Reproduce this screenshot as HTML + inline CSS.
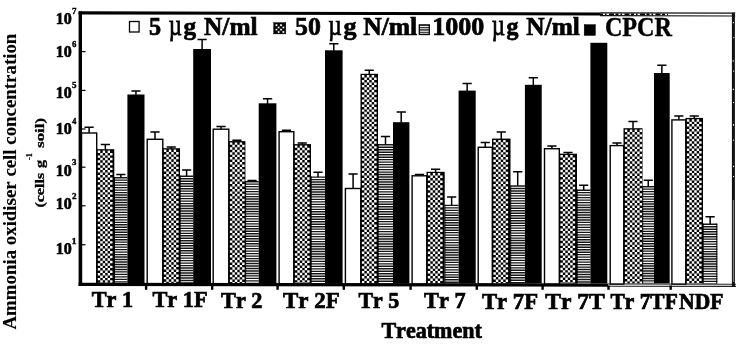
<!DOCTYPE html>
<html lang="en"><head><meta charset="utf-8"><title>Ammonia oxidiser cell concentration</title>
<style>html,body{margin:0;padding:0;background:#fff}svg{display:block}</style></head>
<body>
<svg width="742" height="345" viewBox="0 0 742 345">
<defs>
<pattern id="hl" width="4" height="2.44" patternUnits="userSpaceOnUse">
<rect width="4" height="2.44" fill="#fff"/>
<rect y="0" width="4" height="1.35" fill="#222"/>
</pattern>
</defs>
<rect width="742" height="345" fill="#fff"/>
<rect x="81.50" y="133.00" width="15.20" height="151.20" fill="#fff" stroke="#000" stroke-width="1.4"/>
<path d="M89.10 132.80V126.70M84.50 127.20H93.70" stroke="#000" stroke-width="1.5" fill="none"/>
<rect x="96.40" y="149.20" width="17.90" height="134.30" fill="#000"/>
<path d="M99.03 150.50V283.50M101.48 152.95V283.50M103.93 150.50V283.50M106.38 152.95V283.50M108.83 150.50V283.50M111.28 152.95V283.50" stroke="#fff" stroke-width="2.45" stroke-dasharray="2.45 2.45" fill="none"/>
<path d="M105.35 149.70V144.10M100.75 144.60H109.95" stroke="#000" stroke-width="1.5" fill="none"/>
<rect x="114.30" y="177.00" width="13.10" height="106.50" fill="#fff"/>
<path d="M120.85 177.00V283.50" stroke="#161616" stroke-width="13.10" stroke-dasharray="1.38 1.1" fill="none"/>
<path d="M114.50 177.00V283.50" stroke="#000" stroke-width="1" fill="none"/>
<path d="M120.85 177.50V173.90M116.25 174.40H125.45" stroke="#000" stroke-width="1.5" fill="none"/>
<rect x="127.40" y="94.50" width="17.10" height="189.00" fill="#000"/>
<path d="M135.95 95.00V90.50M131.35 91.00H140.55" stroke="#000" stroke-width="1.5" fill="none"/>
<rect x="147.20" y="139.30" width="15.60" height="144.90" fill="#fff" stroke="#000" stroke-width="1.4"/>
<path d="M155.00 139.10V131.50M150.40 132.00H159.60" stroke="#000" stroke-width="1.5" fill="none"/>
<rect x="162.50" y="148.20" width="17.50" height="135.30" fill="#000"/>
<path d="M165.12 149.50V283.50M167.58 151.95V283.50M170.03 149.50V283.50M172.47 151.95V283.50M174.93 149.50V283.50M177.38 151.95V283.50" stroke="#fff" stroke-width="2.45" stroke-dasharray="2.45 2.45" fill="none"/>
<path d="M171.25 148.70V146.60M166.65 147.10H175.85" stroke="#000" stroke-width="1.5" fill="none"/>
<rect x="180.00" y="175.60" width="13.20" height="107.90" fill="#fff"/>
<path d="M186.60 175.60V283.50" stroke="#161616" stroke-width="13.20" stroke-dasharray="1.38 1.1" fill="none"/>
<path d="M180.20 175.60V283.50" stroke="#000" stroke-width="1" fill="none"/>
<path d="M186.60 176.10V169.60M182.00 170.10H191.20" stroke="#000" stroke-width="1.5" fill="none"/>
<rect x="193.20" y="49.00" width="17.80" height="234.50" fill="#000"/>
<path d="M202.10 49.50V39.00M197.50 39.50H206.70" stroke="#000" stroke-width="1.5" fill="none"/>
<rect x="213.20" y="129.20" width="15.60" height="155.00" fill="#fff" stroke="#000" stroke-width="1.4"/>
<path d="M221.00 129.00V126.00M216.40 126.50H225.60" stroke="#000" stroke-width="1.5" fill="none"/>
<rect x="228.50" y="141.10" width="16.90" height="142.40" fill="#000"/>
<path d="M231.12 142.40V283.50M233.58 144.85V283.50M236.03 142.40V283.50M238.47 144.85V283.50M240.93 142.40V283.50M243.38 144.85V283.50" stroke="#fff" stroke-width="2.45" stroke-dasharray="2.45 2.45" fill="none"/>
<path d="M236.95 141.60V139.80M232.35 140.30H241.55" stroke="#000" stroke-width="1.5" fill="none"/>
<rect x="245.40" y="181.00" width="13.30" height="102.50" fill="#fff"/>
<path d="M252.05 181.00V283.50" stroke="#161616" stroke-width="13.30" stroke-dasharray="1.38 1.1" fill="none"/>
<path d="M245.60 181.00V283.50" stroke="#000" stroke-width="1" fill="none"/>
<path d="M252.05 181.50V180.00M247.45 180.50H256.65" stroke="#000" stroke-width="1.5" fill="none"/>
<rect x="258.70" y="103.30" width="17.70" height="180.20" fill="#000"/>
<path d="M267.55 103.80V98.30M262.95 98.80H272.15" stroke="#000" stroke-width="1.5" fill="none"/>
<rect x="279.10" y="131.70" width="14.70" height="152.50" fill="#fff" stroke="#000" stroke-width="1.4"/>
<path d="M286.45 131.50V129.80M281.85 130.30H291.05" stroke="#000" stroke-width="1.5" fill="none"/>
<rect x="293.50" y="144.10" width="17.50" height="139.40" fill="#000"/>
<path d="M296.12 145.40V283.50M298.57 147.85V283.50M301.02 145.40V283.50M303.47 147.85V283.50M305.92 145.40V283.50M308.38 147.85V283.50" stroke="#fff" stroke-width="2.45" stroke-dasharray="2.45 2.45" fill="none"/>
<path d="M302.25 144.60V142.60M297.65 143.10H306.85" stroke="#000" stroke-width="1.5" fill="none"/>
<rect x="311.00" y="176.40" width="14.00" height="107.10" fill="#fff"/>
<path d="M318.00 176.40V283.50" stroke="#161616" stroke-width="14.00" stroke-dasharray="1.38 1.1" fill="none"/>
<path d="M311.20 176.40V283.50" stroke="#000" stroke-width="1" fill="none"/>
<path d="M318.00 176.90V171.80M313.40 172.30H322.60" stroke="#000" stroke-width="1.5" fill="none"/>
<rect x="325.00" y="50.30" width="17.60" height="233.20" fill="#000"/>
<path d="M333.80 50.80V43.30M329.20 43.80H338.40" stroke="#000" stroke-width="1.5" fill="none"/>
<rect x="345.40" y="188.50" width="15.40" height="95.70" fill="#fff" stroke="#000" stroke-width="1.4"/>
<path d="M353.10 188.30V173.40M348.50 173.90H357.70" stroke="#000" stroke-width="1.5" fill="none"/>
<rect x="360.50" y="73.80" width="17.50" height="209.70" fill="#000"/>
<path d="M363.12 75.10V283.50M365.57 77.55V283.50M368.02 75.10V283.50M370.47 77.55V283.50M372.92 75.10V283.50M375.38 77.55V283.50" stroke="#fff" stroke-width="2.45" stroke-dasharray="2.45 2.45" fill="none"/>
<path d="M369.25 74.30V69.70M364.65 70.20H373.85" stroke="#000" stroke-width="1.5" fill="none"/>
<rect x="378.00" y="144.10" width="15.00" height="139.40" fill="#fff"/>
<path d="M385.50 144.10V283.50" stroke="#161616" stroke-width="15.00" stroke-dasharray="1.38 1.1" fill="none"/>
<path d="M378.20 144.10V283.50" stroke="#000" stroke-width="1" fill="none"/>
<path d="M385.50 144.60V136.00M380.90 136.50H390.10" stroke="#000" stroke-width="1.5" fill="none"/>
<rect x="393.00" y="122.20" width="16.40" height="161.30" fill="#000"/>
<path d="M401.20 122.70V111.40M396.60 111.90H405.80" stroke="#000" stroke-width="1.5" fill="none"/>
<rect x="412.10" y="175.80" width="14.70" height="108.40" fill="#fff" stroke="#000" stroke-width="1.4"/>
<path d="M419.45 175.60V173.90M414.85 174.40H424.05" stroke="#000" stroke-width="1.5" fill="none"/>
<rect x="426.50" y="171.80" width="18.20" height="111.70" fill="#000"/>
<path d="M429.12 173.10V283.50M431.57 175.55V283.50M434.02 173.10V283.50M436.47 175.55V283.50M438.92 173.10V283.50M441.38 175.55V283.50" stroke="#fff" stroke-width="2.45" stroke-dasharray="2.45 2.45" fill="none"/>
<path d="M435.60 172.30V168.80M431.00 169.30H440.20" stroke="#000" stroke-width="1.5" fill="none"/>
<rect x="444.70" y="204.70" width="13.90" height="78.80" fill="#fff"/>
<path d="M451.65 204.70V283.50" stroke="#161616" stroke-width="13.90" stroke-dasharray="1.38 1.1" fill="none"/>
<path d="M444.90 204.70V283.50" stroke="#000" stroke-width="1" fill="none"/>
<path d="M451.65 205.20V196.60M447.05 197.10H456.25" stroke="#000" stroke-width="1.5" fill="none"/>
<rect x="458.60" y="90.60" width="17.10" height="192.90" fill="#000"/>
<path d="M467.15 91.10V83.00M462.55 83.50H471.75" stroke="#000" stroke-width="1.5" fill="none"/>
<rect x="478.20" y="147.30" width="14.10" height="136.90" fill="#fff" stroke="#000" stroke-width="1.4"/>
<path d="M485.25 147.10V141.90M480.65 142.40H489.85" stroke="#000" stroke-width="1.5" fill="none"/>
<rect x="492.00" y="138.60" width="18.50" height="144.90" fill="#000"/>
<path d="M494.62 139.90V283.50M497.07 142.35V283.50M499.52 139.90V283.50M501.97 142.35V283.50M504.42 139.90V283.50M506.88 142.35V283.50" stroke="#fff" stroke-width="2.45" stroke-dasharray="2.45 2.45" fill="none"/>
<path d="M501.25 139.10V131.50M496.65 132.00H505.85" stroke="#000" stroke-width="1.5" fill="none"/>
<rect x="510.50" y="185.30" width="14.40" height="98.20" fill="#fff"/>
<path d="M517.70 185.30V283.50" stroke="#161616" stroke-width="14.40" stroke-dasharray="1.38 1.1" fill="none"/>
<path d="M510.70 185.30V283.50" stroke="#000" stroke-width="1" fill="none"/>
<path d="M517.70 185.80V171.30M513.10 171.80H522.30" stroke="#000" stroke-width="1.5" fill="none"/>
<rect x="524.90" y="84.80" width="16.80" height="198.70" fill="#000"/>
<path d="M533.30 85.30V77.30M528.70 77.80H537.90" stroke="#000" stroke-width="1.5" fill="none"/>
<rect x="544.50" y="148.70" width="14.80" height="135.50" fill="#fff" stroke="#000" stroke-width="1.4"/>
<path d="M551.90 148.50V145.40M547.30 145.90H556.50" stroke="#000" stroke-width="1.5" fill="none"/>
<rect x="559.00" y="153.70" width="18.00" height="129.80" fill="#000"/>
<path d="M561.62 155.00V283.50M564.07 157.45V283.50M566.52 155.00V283.50M568.98 157.45V283.50M571.42 155.00V283.50M573.88 157.45V283.50" stroke="#fff" stroke-width="2.45" stroke-dasharray="2.45 2.45" fill="none"/>
<path d="M568.00 154.20V152.00M563.40 152.50H572.60" stroke="#000" stroke-width="1.5" fill="none"/>
<rect x="577.00" y="189.50" width="13.40" height="94.00" fill="#fff"/>
<path d="M583.70 189.50V283.50" stroke="#161616" stroke-width="13.40" stroke-dasharray="1.38 1.1" fill="none"/>
<path d="M577.20 189.50V283.50" stroke="#000" stroke-width="1" fill="none"/>
<path d="M583.70 190.00V184.80M579.10 185.30H588.30" stroke="#000" stroke-width="1.5" fill="none"/>
<rect x="590.40" y="42.80" width="16.90" height="240.70" fill="#000"/>
<rect x="610.20" y="145.60" width="13.60" height="138.60" fill="#fff" stroke="#000" stroke-width="1.4"/>
<path d="M617.00 145.40V142.40M612.40 142.90H621.60" stroke="#000" stroke-width="1.5" fill="none"/>
<rect x="623.50" y="128.20" width="19.00" height="155.30" fill="#000"/>
<path d="M626.12 129.50V283.50M628.57 131.95V283.50M631.02 129.50V283.50M633.48 131.95V283.50M635.92 129.50V283.50M638.38 131.95V283.50M640.82 129.50V283.50" stroke="#fff" stroke-width="2.45" stroke-dasharray="2.45 2.45" fill="none"/>
<path d="M633.00 128.70V121.00M628.40 121.50H637.60" stroke="#000" stroke-width="1.5" fill="none"/>
<rect x="642.50" y="186.00" width="11.50" height="97.50" fill="#fff"/>
<path d="M648.25 186.00V283.50" stroke="#161616" stroke-width="11.50" stroke-dasharray="1.38 1.1" fill="none"/>
<path d="M642.70 186.00V283.50" stroke="#000" stroke-width="1" fill="none"/>
<path d="M648.25 186.50V179.70M643.65 180.20H652.85" stroke="#000" stroke-width="1.5" fill="none"/>
<rect x="654.00" y="73.00" width="15.70" height="210.50" fill="#000"/>
<path d="M661.85 73.50V64.70M657.25 65.20H666.45" stroke="#000" stroke-width="1.5" fill="none"/>
<rect x="671.90" y="119.90" width="13.90" height="164.30" fill="#fff" stroke="#000" stroke-width="1.4"/>
<path d="M678.85 119.70V115.40M674.25 115.90H683.45" stroke="#000" stroke-width="1.5" fill="none"/>
<rect x="685.50" y="117.90" width="17.50" height="165.60" fill="#000"/>
<path d="M688.12 119.20V283.50M690.57 121.65V283.50M693.02 119.20V283.50M695.48 121.65V283.50M697.92 119.20V283.50M700.38 121.65V283.50" stroke="#fff" stroke-width="2.45" stroke-dasharray="2.45 2.45" fill="none"/>
<path d="M694.25 118.40V115.40M689.65 115.90H698.85" stroke="#000" stroke-width="1.5" fill="none"/>
<rect x="703.00" y="223.60" width="14.30" height="59.90" fill="#fff"/>
<path d="M710.15 223.60V283.50" stroke="#161616" stroke-width="14.30" stroke-dasharray="1.38 1.1" fill="none"/>
<path d="M703.20 223.60V283.50M716.80 223.60V283.50" stroke="#000" stroke-width="1" fill="none"/>
<path d="M710.15 224.10V216.30M705.55 216.80H714.75" stroke="#000" stroke-width="1.5" fill="none"/>
<rect x="78.6" y="11.4" width="3.40" height="274.60" fill="#000"/>
<polygon points="78.6,11.30 600,12.39 600,15.49 78.6,14.40" fill="#000"/>
<path d="M600 12.89L735.2 13.18M600 15.69L735.2 15.98" stroke="#111" stroke-width="1.2"/>
<path d="M600 14.29L668 14.44" stroke="#000" stroke-width="1.6" stroke-dasharray="3 2 1.5 2.5 5 1.5"/>
<polygon points="78.6,282.70 608,283.44 608,286.64 78.6,285.90" fill="#000"/>
<path d="M608 284.04L736.0 284.22M608 286.24L736.0 286.42" stroke="#222" stroke-width="1.1"/>
<rect x="731.9" y="12.67" width="3" height="274.24" fill="#111"/>
<path d="M733.4 200V282" stroke="#999" stroke-width="0.9"/>
<path d="M733.3 22v1.2m0.5 14v1m-0.6 22v1.4m0.4 9v1m-0.3 17v1.5m0.2 12v1m0 21v1.6m0 14v1m0 25v1.4m0 9v1" stroke="#fff" stroke-width="1"/>
<rect x="144.90" y="285.5" width="2.4" height="4.3" fill="#000"/>
<rect x="211.00" y="285.5" width="2.4" height="4.3" fill="#000"/>
<rect x="276.40" y="285.5" width="2.4" height="4.3" fill="#000"/>
<rect x="342.60" y="285.5" width="2.4" height="4.3" fill="#000"/>
<rect x="409.40" y="285.5" width="2.4" height="4.3" fill="#000"/>
<rect x="475.60" y="285.5" width="2.4" height="4.3" fill="#000"/>
<rect x="541.40" y="285.5" width="2.4" height="4.3" fill="#000"/>
<rect x="607.30" y="285.5" width="2.4" height="4.3" fill="#000"/>
<rect x="669.50" y="285.5" width="2.4" height="4.3" fill="#000"/>
<rect x="81.5" y="51.00" width="4" height="1.2" fill="#000"/>
<rect x="81.5" y="89.80" width="4" height="1.2" fill="#000"/>
<rect x="81.5" y="128.40" width="4" height="1.2" fill="#000"/>
<rect x="81.5" y="166.60" width="4" height="1.2" fill="#000"/>
<rect x="81.5" y="205.20" width="4" height="1.2" fill="#000"/>
<rect x="81.5" y="244.10" width="4" height="1.2" fill="#000"/>
<g font-family="'Liberation Serif', 'DejaVu Serif', serif" font-weight="bold" fill="#000" stroke="#000" stroke-width="0.45" style="font-kerning:none">
<text transform="translate(55.82 23.7) scale(1.0014 1)" font-size="16" font-weight="bold" stroke-width="0.599">10</text>
<text transform="translate(71.90 13.5) scale(1.0053 1)" font-size="9" font-weight="bold" stroke-width="0.398">7</text>
<text transform="translate(55.82 57.4) scale(1.0014 1)" font-size="16" font-weight="bold" stroke-width="0.599">10</text>
<text transform="translate(72.09 47.0) scale(0.9706 1)" font-size="9" font-weight="bold" stroke-width="0.412">6</text>
<text transform="translate(55.82 98.0) scale(1.0014 1)" font-size="16" font-weight="bold" stroke-width="0.599">10</text>
<text transform="translate(72.04 87.9) scale(0.9935 1)" font-size="9" font-weight="bold" stroke-width="0.403">5</text>
<text transform="translate(55.82 134.3) scale(1.0014 1)" font-size="16" font-weight="bold" stroke-width="0.599">10</text>
<text transform="translate(72.28 124.1) scale(0.9080 1)" font-size="9" font-weight="bold" stroke-width="0.441">4</text>
<text transform="translate(55.82 175.5) scale(1.0014 1)" font-size="16" font-weight="bold" stroke-width="0.599">10</text>
<text transform="translate(72.04 165.4) scale(0.9935 1)" font-size="9" font-weight="bold" stroke-width="0.403">3</text>
<text transform="translate(55.82 209.3) scale(1.0014 1)" font-size="16" font-weight="bold" stroke-width="0.599">10</text>
<text transform="translate(72.03 199.1) scale(1.0174 1)" font-size="9" font-weight="bold" stroke-width="0.393">2</text>
<text transform="translate(55.82 253.7) scale(1.0014 1)" font-size="16" font-weight="bold" stroke-width="0.599">10</text>
<text transform="translate(71.58 243.5) scale(1.1411 1)" font-size="9" font-weight="bold" stroke-width="0.351">1</text>
<text transform="translate(91.72 307.0) scale(1.0013 1)" font-size="22.2" font-weight="bold" stroke-width="0.699">Tr 1</text>
<text transform="translate(152.41 307.4) scale(1.0074 1)" font-size="22.2" font-weight="bold" stroke-width="0.695">Tr 1F</text>
<text transform="translate(221.12 307.6) scale(1.0007 1)" font-size="22.2" font-weight="bold" stroke-width="0.699">Tr 2</text>
<text transform="translate(283.01 307.8) scale(1.0336 1)" font-size="22.2" font-weight="bold" stroke-width="0.677">Tr 2F</text>
<text transform="translate(358.42 308.2) scale(0.9855 1)" font-size="22.2" font-weight="bold" stroke-width="0.710">Tr 5</text>
<text transform="translate(424.12 308.4) scale(1.0024 1)" font-size="22.2" font-weight="bold" stroke-width="0.698">Tr 7</text>
<text transform="translate(481.91 308.8) scale(1.0243 1)" font-size="22.2" font-weight="bold" stroke-width="0.683">Tr 7F</text>
<text transform="translate(545.30 309.0) scale(1.0613 1)" font-size="22.2" font-weight="bold" stroke-width="0.660">Tr 7T</text>
<text transform="translate(610.53 309.4) scale(0.9654 1)" font-size="22.2" font-weight="bold" stroke-width="0.725">Tr 7TF</text>
<text transform="translate(679.12 309.4) scale(0.9690 1)" font-size="22.2" font-weight="bold" stroke-width="0.722">NDF</text>
<text transform="translate(381.42 338.3) scale(0.9888 1)" font-size="22.3" font-weight="bold" stroke-width="0.708">Treatment</text>
<rect x="129.5" y="21.5" width="9.6" height="10.5" fill="#fff" stroke="#000" stroke-width="1.3"/>
<text transform="translate(148.98 34.7) scale(0.9394 1)" font-size="25.8" font-weight="bold" stroke-width="0.745">5</text>
<text transform="translate(168.81 34.7) scale(0.7901 1)" font-size="29" font-weight="normal" stroke-width="0.759">µ</text>
<text transform="translate(183.52 34.7) scale(0.9752 1)" font-size="25.8" font-weight="bold" stroke-width="0.718">g</text>
<text transform="translate(204.04 34.7) scale(0.9825 1)" font-size="25.8" font-weight="bold" stroke-width="0.712">N/ml</text>
<rect x="273.7" y="22.6" width="12.1" height="11.3" fill="#000"/>
<rect x="275.30" y="24.00" width="2.2" height="2.2" fill="#fff"/>
<rect x="279.90" y="24.00" width="2.2" height="2.2" fill="#fff"/>
<rect x="277.60" y="26.30" width="2.2" height="2.2" fill="#fff"/>
<rect x="282.20" y="26.30" width="2.2" height="2.2" fill="#fff"/>
<rect x="275.30" y="28.60" width="2.2" height="2.2" fill="#fff"/>
<rect x="279.90" y="28.60" width="2.2" height="2.2" fill="#fff"/>
<rect x="277.60" y="30.90" width="2.2" height="2.2" fill="#fff"/>
<rect x="282.20" y="30.90" width="2.2" height="2.2" fill="#fff"/>
<text transform="translate(295.12 35.0) scale(1.0027 1)" font-size="25.8" font-weight="bold" stroke-width="0.698">50</text>
<text transform="translate(328.20 35.0) scale(0.8102 1)" font-size="29" font-weight="normal" stroke-width="0.741">µ</text>
<text transform="translate(343.50 35.0) scale(1.0086 1)" font-size="25.8" font-weight="bold" stroke-width="0.694">g</text>
<text transform="translate(363.14 35.0) scale(0.9937 1)" font-size="25.8" font-weight="bold" stroke-width="0.704">N/ml</text>
<rect x="419.3" y="24.9" width="10" height="9.6" fill="url(#hl)" stroke="#000" stroke-width="1.3"/>
<text transform="translate(432.17 35.4) scale(1.0082 1)" font-size="25.8" font-weight="bold" stroke-width="0.694">1000</text>
<text transform="translate(491.71 35.4) scale(0.7901 1)" font-size="29" font-weight="normal" stroke-width="0.759">µ</text>
<text transform="translate(506.45 35.4) scale(0.9252 1)" font-size="25.8" font-weight="bold" stroke-width="0.757">g</text>
<text transform="translate(526.34 35.4) scale(0.9825 1)" font-size="25.8" font-weight="bold" stroke-width="0.712">N/ml</text>
<rect x="584.2" y="24.6" width="11.2" height="10.9" fill="#000"/>
<text transform="translate(604.89 36.0) scale(0.9072 1)" font-size="26.6" font-weight="bold" stroke-width="0.441">CPCR</text>
<text transform="translate(16.2 329.54) rotate(-90) scale(0.9928 1)" font-size="19" font-weight="bold" stroke-width="0.101">Ammonia oxidiser cell concentration</text>
<text transform="translate(43.7 207.62) rotate(-90) scale(1.2374 1)" font-size="13" font-weight="bold" stroke-width="0.323">(cells</text>
<text transform="translate(43.7 168.10) rotate(-90) scale(1.1947 1)" font-size="13.5" font-weight="bold" stroke-width="0.335">g</text>
<text transform="translate(32.4 159.93) rotate(-90) scale(1.0738 1)" font-size="7.5" font-weight="bold" stroke-width="0.279">-1</text>
<text transform="translate(43.7 147.80) rotate(-90) scale(1.2903 1)" font-size="13" font-weight="bold" stroke-width="0.310">soil)</text>
</g>
</svg>
</body></html>
